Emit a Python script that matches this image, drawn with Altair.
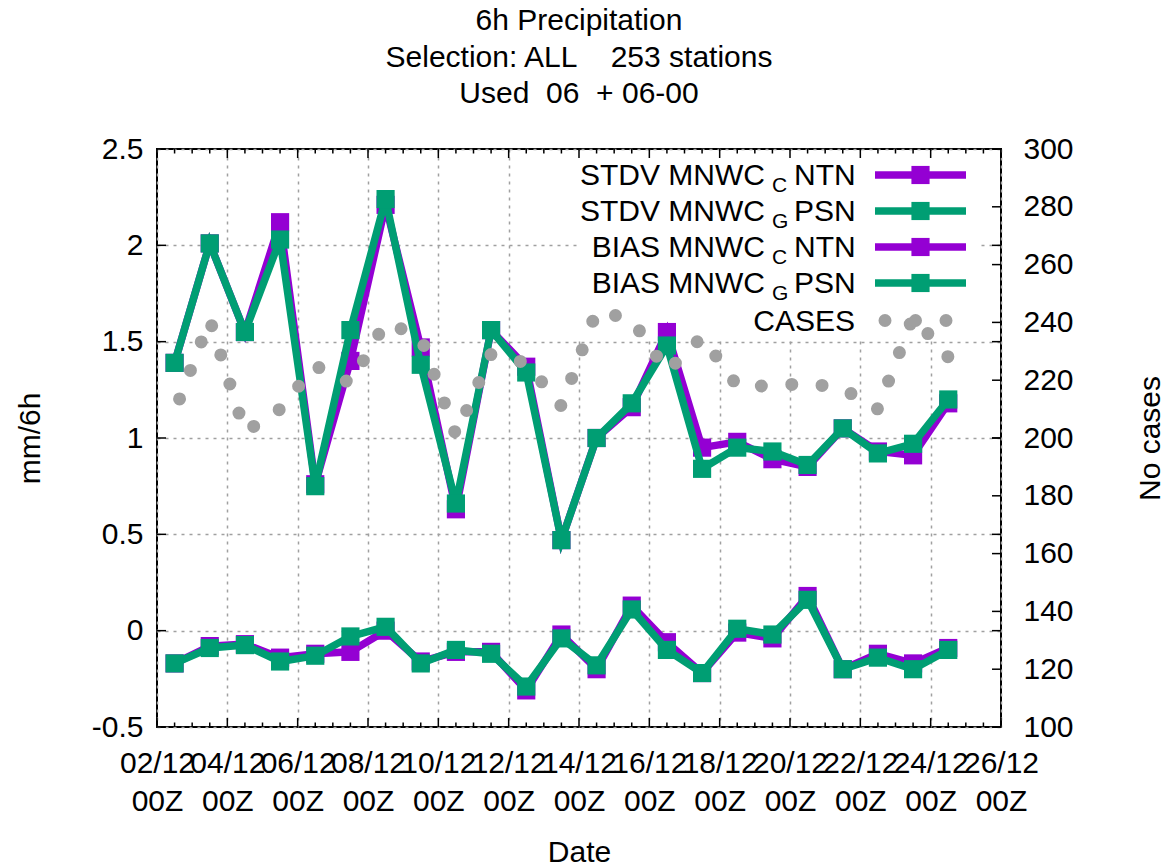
import altair as alt
import pandas as pd

# Valid times: 12Z on each day of December
valid_day = list(range(2, 25))

stdv_cntn = [1.39, 2.01, 1.55, 2.12, 0.76, 1.40, 2.21, 1.47, 0.63, 1.56, 1.37, 0.47,
             1.00, 1.16, 1.55, 0.95, 0.98, 0.89, 0.85, 1.05, 0.93, 0.91, 1.18]
stdv_gpsn = [1.39, 2.01, 1.55, 2.03, 0.75, 1.56, 2.24, 1.38, 0.66, 1.56, 1.34, 0.47,
             1.00, 1.18, 1.48, 0.84, 0.95, 0.93, 0.86, 1.05, 0.92, 0.97, 1.20]
bias_cntn = [-0.17, -0.08, -0.07, -0.14, -0.12, -0.11, 0.00, -0.16, -0.11, -0.11, -0.31, -0.02,
             -0.20, 0.13, -0.06, -0.22, -0.01, -0.04, 0.18, -0.20, -0.12, -0.17, -0.09]
bias_gpsn = [-0.17, -0.09, -0.075, -0.16, -0.13, -0.03, 0.02, -0.17, -0.10, -0.12, -0.29, -0.04,
             -0.18, 0.11, -0.10, -0.22, 0.01, -0.02, 0.16, -0.20, -0.14, -0.20, -0.10]
cases = [209, 241, 202, 210, 225, 219, 240, 235, 201, 229, 226, 211,
         244, 241, 223, 235, 218, 218, 219, 217, 210, 242, 228]

# Axis tick values
major_days = list(range(2, 27, 2))
y_left_ticks = [-0.5, 0, 0.5, 1, 1.5, 2, 2.5]
y_right_ticks = [100, 120, 140, 160, 180, 200, 220, 240, 260, 280, 300]

PURPLE = "#9400d3"
GREEN = "#009e73"
GRAY = "#a0a0a0"
FONT = "Liberation Sans"
FS = 30

W, H = 844, 578


def ts(day, hour=0):
    return f"2023-12-{day:02d}T{hour:02d}:00:00Z"


df = pd.DataFrame({
    "time": [ts(d, 12) for d in valid_day],
    "stdv_cntn": stdv_cntn,
    "stdv_gpsn": stdv_gpsn,
    "bias_cntn": bias_cntn,
    "bias_gpsn": bias_gpsn,
    "cases": cases,
})

major_df = pd.DataFrame({"time": [ts(d) for d in major_days]})
minor_df = pd.DataFrame({"time": [ts(d, 12) for d in range(2, 26)] +
                                 [ts(d) for d in range(3, 26, 2)]})
yl_df = pd.DataFrame({"v": y_left_ticks})
yr_df = pd.DataFrame({"v": y_right_ticks})

x_scale = alt.Scale(type="utc", domain=[alt.DateTime(year=2023, month=12, date=2, utc=True),
                                        alt.DateTime(year=2023, month=12, date=26, utc=True)])
yl_scale = alt.Scale(domain=[-0.5, 2.5], nice=False, zero=False)
yr_scale = alt.Scale(domain=[100, 300], nice=False, zero=False)

x_noaxis = alt.X("time:T", scale=x_scale, axis=None)
major_vals = [alt.DateTime(year=2023, month=12, date=d, utc=True) for d in major_days]

common_label = dict(labelFont=FONT, labelFontSize=FS, labelColor="#000",
                    ticks=False, tickSize=0, domain=False)
title_style = dict(titleFont=FONT, titleFontSize=FS, titleFontWeight="normal", titleColor="#000")

x_axis_date = alt.Axis(
    values=major_vals, orient="bottom",
    labelExpr="utcFormat(datum.value, '%d/%m')",
    labelPadding=21, labelFlush=False, labelOverlap=False, **common_label,
    grid=True, gridColor=GRAY, gridDash=[3, 5], gridWidth=1.5,
    title=None,
)
x_axis_hour = alt.Axis(
    values=major_vals, orient="bottom",
    labelExpr="utcFormat(datum.value, '%HZ')",
    labelPadding=59, labelFlush=False, labelOverlap=False, **common_label,
    grid=False,
    title="Date", titlePadding=21, **title_style,
)
yl_axis = alt.Axis(
    values=y_left_ticks, orient="left", labelExpr="'' + datum.value",
    labelPadding=14, **common_label,
    grid=True, gridColor=GRAY, gridDash=[3, 5], gridWidth=1.5,
    title="mm/6h", titleX=-127, titleY=H / 2, titleAlign="center", titleBaseline="middle",
    titleAngle=270, **title_style,
)
yr_axis = alt.Axis(
    values=y_right_ticks, orient="right", labelExpr="'' + datum.value",
    labelPadding=22, **common_label, grid=False,
    title="No cases", titleX=149, titleY=H / 2, titleAlign="center", titleBaseline="middle",
    titleAngle=270, **title_style,
)

# Carriers for the grid, tick labels and axis titles
axes_date = alt.Chart(df).mark_point(opacity=0).encode(
    x=alt.X("time:T", scale=x_scale, axis=x_axis_date),
    y=alt.Y("stdv_cntn:Q", scale=yl_scale, axis=yl_axis),
)
axes_hour = alt.Chart(df).mark_point(opacity=0).encode(
    x=alt.X("time:T", scale=x_scale, axis=x_axis_hour),
)

# Key area is kept clear of grid lines
one = alt.Data(values=[{}])
key_box = alt.Chart(one).mark_rect(color="white").encode(
    x=alt.value(420), x2=alt.value(821), y=alt.value(2), y2=alt.value(188)
)


def inward_x_ticks(data, length):
    bottom = alt.Chart(data).mark_rule(color="#000", strokeWidth=1.5).encode(
        x=x_noaxis, y=alt.value(H), y2=alt.value(H - length))
    top = alt.Chart(data).mark_rule(color="#000", strokeWidth=1.5).encode(
        x=x_noaxis, y=alt.value(0), y2=alt.value(length))
    return [bottom, top]


def inward_y_ticks(data, scale, sides):
    out = []
    for x0, x1 in sides:
        out.append(alt.Chart(data).mark_rule(color="#000", strokeWidth=1.5).encode(
            y=alt.Y("v:Q", scale=scale, axis=None), x=alt.value(x0), x2=alt.value(x1)))
    return out


def series(field, color):
    line = alt.Chart(df).mark_line(color=color, strokeWidth=7.5, strokeJoin="miter").encode(
        x=x_noaxis, y=alt.Y(f"{field}:Q", scale=yl_scale, axis=None))
    pts = alt.Chart(df).mark_point(shape="square", filled=True, opacity=1, size=330,
                                   color=color).encode(
        x=x_noaxis, y=alt.Y(f"{field}:Q", scale=yl_scale, axis=None))
    return [line, pts]


cases_line = alt.Chart(df).mark_line(
    color=GRAY, strokeWidth=13, strokeCap="round", strokeDash=[0, 30.5], strokeDashOffset=16.5
).encode(x=x_noaxis, y=alt.Y("cases:Q", scale=yr_scale, axis=yr_axis))

# Key entries: (main text, subscript, suffix, colour)
key_main = ["STDV MNWC", "STDV MNWC", "BIAS MNWC", "BIAS MNWC"]
key_sub = ["C", "G", "C", "G"]
key_tail = ["NTN", "PSN", "NTN", "PSN"]
key_color = [PURPLE, GREEN, PURPLE, GREEN]
row_y = [26, 62, 98, 134, 171.5]

key_layers = []
for i in range(4):
    yy = row_y[i]
    key_layers += [
        alt.Chart(one).mark_text(font=FONT, fontSize=FS, align="right", baseline="alphabetic",
                                 text=key_main[i], color="#000").encode(
            x=alt.value(608), y=alt.value(yy + 10)),
        alt.Chart(one).mark_text(font=FONT, fontSize=21, align="left", baseline="alphabetic",
                                 text=key_sub[i], color="#000").encode(
            x=alt.value(615), y=alt.value(yy + 17)),
        alt.Chart(one).mark_text(font=FONT, fontSize=FS, align="left", baseline="alphabetic",
                                 text=key_tail[i], color="#000").encode(
            x=alt.value(637), y=alt.value(yy + 10)),
        alt.Chart(one).mark_rule(color=key_color[i], strokeWidth=7.5).encode(
            x=alt.value(718), x2=alt.value(809), y=alt.value(yy)),
        alt.Chart(one).mark_point(shape="square", filled=True, opacity=1, size=330,
                                  color=key_color[i]).encode(
            x=alt.value(763.5), y=alt.value(yy)),
    ]
key_layers += [
    alt.Chart(one).mark_text(font=FONT, fontSize=FS, align="right", baseline="alphabetic",
                             text="CASES", color="#000").encode(
        x=alt.value(698), y=alt.value(row_y[4] + 10)),
    alt.Chart(one).mark_rule(color=GRAY, strokeWidth=13, strokeCap="round",
                             strokeDash=[0, 30.5], strokeDashOffset=20.5).encode(
        x=alt.value(718), x2=alt.value(809), y=alt.value(row_y[4])),
]

layers = [
    axes_date, axes_hour, key_box,
    *inward_x_ticks(major_df, 9), *inward_x_ticks(minor_df, 4.5),
    *inward_y_ticks(yl_df, yl_scale, [(0, 9), (W, W - 9)]),
    *inward_y_ticks(yr_df, yr_scale, [(W, W - 9)]),
    *series("stdv_cntn", PURPLE), *series("stdv_gpsn", GREEN),
    *series("bias_cntn", PURPLE), *series("bias_gpsn", GREEN),
    cases_line,
    *key_layers,
]

chart = alt.layer(*layers).resolve_scale(y="independent").resolve_axis(
    x="independent", y="independent"
).properties(
    width=W, height=H,
    title=alt.TitleParams(
        ["6h Precipitation", "Selection: ALL\u00a0\u00a0\u00a0\u00a0253 stations",
         "Used\u00a0\u00a006\u00a0\u00a0+ 06-00"],
        font=FONT, fontSize=FS, fontWeight="normal", color="#000",
        anchor="middle", frame="group", lineHeight=36.5, offset=25,
    ),
    autosize=alt.AutoSizeParams(type="none"),
    padding={"left": 157, "top": 149, "right": 167, "bottom": 138},
).configure(
    background="white",
    view=alt.ViewConfig(stroke="#000", strokeWidth=2),
)

chart.save("out.html", embed_options={"renderer": "svg", "actions": False})
